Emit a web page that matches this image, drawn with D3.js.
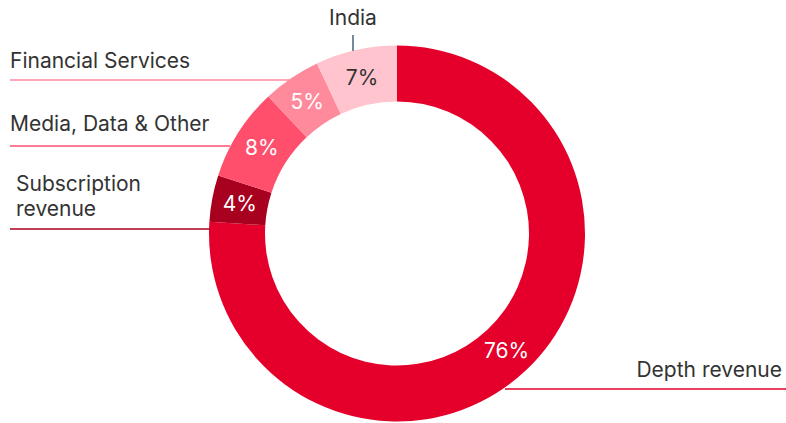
<!DOCTYPE html>
<html>
<head>
<meta charset="utf-8">
<script src="https://cdn.jsdelivr.net/npm/d3@7"></script>
<style>
  html, body { margin: 0; padding: 0; background: #fff; }
  svg { display: block; font-family: Inter, "Open Sans", sans-serif; }
</style>
</head>
<body>
<svg id="chart" width="786" height="423"></svg>
<script>
// Revenue mix, clockwise from 12 o'clock
const categories = ["Depth revenue", "Subscription revenue", "Media, Data & Other", "Financial Services", "India"];
const shares = [76, 4, 8, 5, 7];
const colors = ["#E4002B", "#A8001F", "#FF4F6C", "#FF8A9C", "#FFC4CE"];
const valueColors = ["#ffffff", "#ffffff", "#ffffff", "#ffffff", "#333333"];

const svg = d3.select("#chart");
const cx = 397, cy = 233.5;
const outerR = 188, innerR = 132;

const pie = d3.pie().sort(null).value(d => d.value);
const arcs = pie(categories.map((c, i) => ({ name: c, value: shares[i], i })));
const arc = d3.arc().innerRadius(innerR).outerRadius(outerR);
const labelArc = d3.arc().innerRadius((innerR + outerR) / 2).outerRadius((innerR + outerR) / 2);

const g = svg.append("g").attr("transform", `translate(${cx},${cy})`);
g.selectAll("path").data(arcs).join("path")
  .attr("d", arc)
  .attr("fill", d => colors[d.data.i]);

g.selectAll("text.pct").data(arcs).join("text")
  .attr("class", "pct")
  .attr("transform", d => `translate(${labelArc.centroid(d)})`)
  .attr("text-anchor", "middle")
  .attr("dy", "0.36em")
  .attr("font-size", 21)
  .attr("fill", d => valueColors[d.data.i])
  .text(d => d.data.value + "%");

// Callout labels with leader lines
const callouts = [
  { i: 4, lines: ["India"], anchor: "middle", tx: 353, ty: 25, line: [[353, 35], [353, 51]], stroke: "#2F4A63" },
  { i: 3, lines: ["Financial Services"], anchor: "start", tx: 10, ty: 68, line: [[10, 80], [290, 80]], stroke: "#FF8A9C" },
  { i: 2, lines: ["Media, Data & Other"], anchor: "start", tx: 10, ty: 131, line: [[10, 146], [230, 146]], stroke: "#FF4F6C" },
  { i: 1, lines: ["Subscription", "revenue"], anchor: "start", tx: 16, ty: 191, line: [[10, 229], [210, 229]], stroke: "#A8001F" },
  { i: 0, lines: ["Depth revenue"], anchor: "end", tx: 782, ty: 377, line: [[505, 389], [786, 389]], stroke: "#E4002B" }
];

callouts.forEach(c => {
  svg.append("line")
    .attr("x1", c.line[0][0]).attr("y1", c.line[0][1])
    .attr("x2", c.line[1][0]).attr("y2", c.line[1][1])
    .attr("stroke", c.stroke).attr("stroke-width", 1.3);
  const t = svg.append("text")
    .attr("x", c.tx).attr("y", c.ty)
    .attr("text-anchor", c.anchor)
    .attr("font-size", 21)
    .attr("fill", "#333");
  c.lines.forEach((ln, k) => {
    t.append("tspan").attr("x", c.tx).attr("dy", k === 0 ? 0 : 25).text(ln);
  });
});
</script>
</body>
</html>
